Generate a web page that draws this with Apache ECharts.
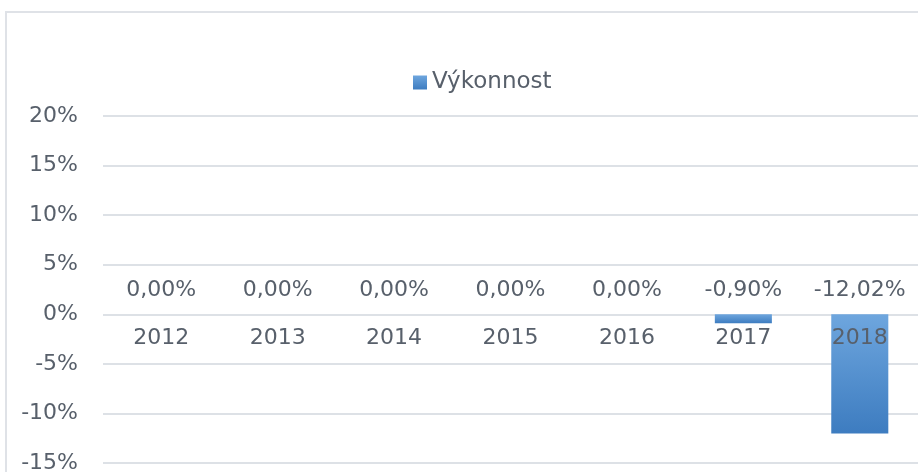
<!DOCTYPE html>
<html>
<head>
    <meta charset="utf-8" />
    <title></title>
    <script src="https://cdn.jsdelivr.net/npm/echarts@6/dist/echarts.min.js"></script>
    <style>
        * { margin: 0; padding: 0; box-sizing: border-box; }
        body { background: #fff; }
        #chart { width: 918px; height: 472px; }
    </style>
</head>
<body>
    <div id="chart"></div>
    <script>
        const myChart = echarts.init(document.getElementById('chart'));

        // data
        const years = ['2012', '2013', '2014', '2015', '2016', '2017', '2018'];
        const performance = [0, 0, 0, 0, 0, -0.90, -12.02];
        const seriesName = 'Výkonnost';

        const textColor = '#58606b';
        const fontFamily = "'DejaVu Sans', sans-serif";
        const fontSize = 22;

        const option = {
            animation: false,
            graphic: [{
                type: 'rect',
                shape: { x: 6, y: 12, width: 930, height: 480 },
                style: { fill: 'none', stroke: '#dfe2e7', lineWidth: 2 }
            }],
            legend: {
                data: [seriesName],
                top: 66,
                left: 408,
                icon: 'rect',
                itemWidth: 14,
                itemHeight: 14,
                itemGap: 6,
                textStyle: { color: textColor, fontSize: 23, fontFamily: fontFamily }
            },
            grid: {
                left: 103,
                top: 116,
                width: 815,
                height: 347,
                outerBoundsMode: 'none',
                containLabel: false
            },
            xAxis: {
                type: 'category',
                data: years,
                z: 5,
                // labels sit just under the 0% line (0% is 3/7 of the grid height above the bottom)
                offset: -148,
                axisLine: { show: false, onZero: false },
                axisTick: { show: false },
                axisLabel: {
                    color: textColor, fontSize: fontSize, fontFamily: fontFamily, margin: 12,
                    hideOverlap: false, interval: 0
                }
            },
            yAxis: {
                type: 'value',
                min: -15,
                max: 20,
                interval: 5,
                axisLine: { show: false },
                axisTick: { show: false },
                axisLabel: {
                    color: textColor, fontSize: fontSize, fontFamily: fontFamily, margin: 25,
                    formatter: '{value}%'
                },
                splitLine: { lineStyle: { color: '#dde1e6', width: 2 } }
            },
            series: [{
                name: seriesName,
                type: 'bar',
                data: performance,
                barWidth: '49%',
                itemStyle: {
                    color: new echarts.graphic.LinearGradient(0, 0, 0, 1, [
                        { offset: 0, color: '#6ea6de' },
                        { offset: 1, color: '#3d7cc0' }
                    ])
                },
                label: {
                    show: true,
                    position: 'top',
                    distance: 13,
                    color: textColor,
                    fontSize: fontSize,
                    fontFamily: fontFamily,
                    formatter: function (p) {
                        return p.value.toFixed(2).replace('.', ',') + '%';
                    }
                }
            }]
        };

        myChart.setOption(option);
    </script>
</body>
</html>
